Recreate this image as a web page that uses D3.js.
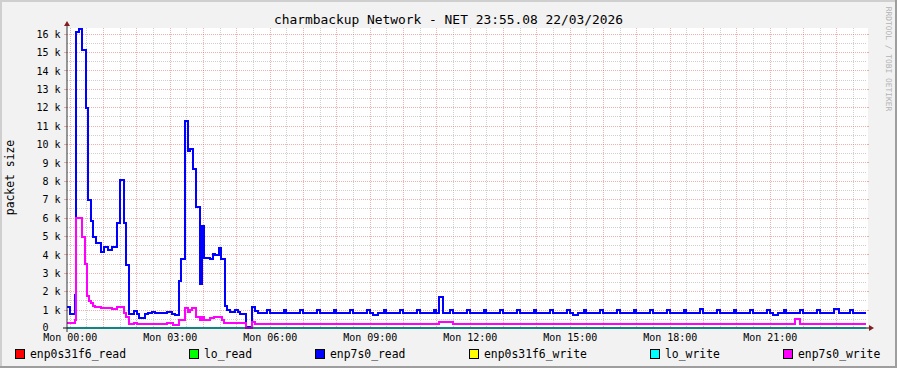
<!DOCTYPE html>
<html>
<head>
<meta charset="utf-8">
<script src="https://cdn.jsdelivr.net/npm/d3@7"></script>
<style>
body { margin: 0; background: #f2f2f2; }
svg { display: block; }
</style>
</head>
<body>
<div id="chart"></div>
<script>
// color definitions (rrdtool look)
var backColor = '#f2f2f2';
var canvasColor = '#ffffff';
var shadeA = '#cfcfcf';
var shadeB = '#9e9e9e';
var gridColor = 'rgba(143,143,143,0.42)';
var mgridColor = 'rgba(222,79,79,0.45)';
var arrowColor = '#801f1f';
var axisColor = '#1f1f1f';
var font = '"DejaVu Sans Mono", "Liberation Mono", monospace';

var width = 897, height = 368;
var xOrigin = 67, yOrigin = 328, xSize = 800, ySize = 300;

// texts
var titleText = 'charmbackup Network - NET 23:55.08 22/03/2026';
var yTitle = 'packet size';
var watermark = 'RRDTOOL / TOBI OETIKER';

// legend
var seriesNames = ['enp0s31f6_read', 'lo_read', 'enp7s0_read', 'enp0s31f6_write', 'lo_write', 'enp7s0_write'];
var seriesColors = ['#ff0000', '#00ff00', '#0000ff', '#ffff00', '#00ffff', '#ff00ff'];
var legendX = [15, 189, 315, 469, 650, 783];

// x axis, minutes from Mon 00:00
var xStart = -5, xEnd = 1435;
var xTicks = [0, 180, 360, 540, 720, 900, 1080, 1260];
var xTickLabels = ['Mon 00:00', 'Mon 03:00', 'Mon 06:00', 'Mon 09:00', 'Mon 12:00', 'Mon 15:00', 'Mon 18:00', 'Mon 21:00'];

// y axis, packets
var yMax = 16304;
var yTicks = [0, 1000, 2000, 3000, 4000, 5000, 6000, 7000, 8000, 9000, 10000, 11000, 12000, 13000, 14000, 15000, 16000];
var yTickLabels = ['0', '1 k', '2 k', '3 k', '4 k', '5 k', '6 k', '7 k', '8 k', '9 k', '10 k', '11 k', '12 k', '13 k', '14 k', '15 k', '16 k'];

// step data: time where value starts (minutes) and value
var zeroTimes = [-5, 1433];
var zeroValues = [0, 0];

var readTimes = [-5, 1, 9, 12, 17, 22, 29, 33, 38, 42, 47, 57, 62, 69, 76, 85, 91, 98, 102, 107,
	116, 121, 125, 136, 141, 148, 153, 175, 184, 190, 196, 200, 207, 213, 217, 222, 228, 234, 238, 241,
	252, 258, 262, 268, 273, 279, 283, 288, 298, 303, 307, 318, 328, 333, 338,
	355, 360, 385, 390, 415, 420, 445, 450, 475, 480, 505, 510, 535, 540, 545, 555,
	565, 570, 595, 600, 625, 630, 655, 660, 665, 671, 685, 690, 715, 720, 745, 750,
	775, 780, 805, 810, 835, 840, 865, 870, 895, 900, 905, 915, 925, 930, 955, 960,
	985, 990, 1015, 1020, 1045, 1050, 1075, 1080, 1105, 1110, 1135, 1140, 1165, 1170,
	1195, 1200, 1225, 1230, 1255, 1260, 1265, 1275, 1285, 1290, 1315, 1320, 1345, 1350,
	1375, 1385, 1405, 1410, 1433];
var readValues = [1160, 760, 1780, 16070, 16270, 15130, 11970, 6970, 5840, 4930, 4600, 4150, 4420, 4240, 4420, 5700, 8050, 5700, 3430, 760,
	940, 740, 530, 760, 800, 870, 800, 870, 780, 680, 2560, 3750, 11270, 9600, 9740, 8650, 6550, 2380, 5570, 3830,
	3750, 4030, 3950, 4370, 3750, 1210, 980, 890, 1000, 890, 780, 70, 1160, 900, 820,
	980, 820, 980, 820, 980, 820, 980, 820, 980, 820, 980, 820, 980, 820, 710, 820,
	980, 820, 980, 820, 980, 820, 980, 820, 1670, 820, 980, 820, 980, 820, 980, 820,
	980, 820, 980, 820, 980, 820, 980, 820, 980, 820, 710, 820, 980, 820, 980, 820,
	980, 820, 980, 820, 980, 820, 980, 820, 980, 820, 1050, 820, 980, 820,
	980, 820, 980, 820, 980, 820, 710, 820, 980, 820, 980, 820, 980, 820,
	1020, 820, 980, 820, 820];

var writeTimes = [-5, 9, 12, 22, 27, 31, 35, 38, 42, 46, 57, 66, 76, 85, 89, 97, 102, 106, 116, 121,
	175, 186, 196, 207, 213, 217, 220, 228, 234, 238, 242, 253, 260, 274, 277, 318, 328, 333,
	665, 690, 1306, 1314, 1433];
var writeValues = [250, 440, 5980, 4970, 3480, 1740, 1470, 1340, 1210, 1160, 1110, 1070, 1020, 1130, 1160, 800, 620, 200, 260, 200,
	250, 170, 440, 1070, 860, 1000, 1110, 620, 440, 620, 440, 560, 620, 440, 250, 20, 340, 230,
	300, 230, 480, 230, 230];

function pairs(times, values) {
	return times.map(function (t, i) { return [t, values[i]]; });
}

var seriesData = [
	pairs(zeroTimes, zeroValues),
	pairs(zeroTimes, zeroValues),
	pairs(readTimes, readValues),
	pairs(zeroTimes, zeroValues),
	pairs(zeroTimes, zeroValues),
	pairs(writeTimes, writeValues)
];

function plotGraph() {
	var svg = d3.select('#chart')
		.append('svg')
		.attr('width', width)
		.attr('height', height)
		.style('font-family', font);

	// background + 3d frame
	svg.append('rect').attr('width', width).attr('height', height).attr('fill', backColor);
	svg.append('path').attr('d', 'M0,0H' + width + 'V2H2V' + height + 'H0Z').attr('fill', shadeA);
	svg.append('path').attr('d', 'M' + width + ',0V' + height + 'H0V' + (height - 2) + 'H' + (width - 2) + 'V0Z').attr('fill', shadeB);

	var x = d3.scaleLinear().domain([xStart, xEnd]).range([xOrigin, xOrigin + xSize]);
	var y = d3.scaleLinear().domain([0, yMax]).range([yOrigin, yOrigin - ySize]);

	// canvas
	svg.append('rect')
		.attr('x', xOrigin).attr('y', yOrigin - ySize)
		.attr('width', xSize + 1).attr('height', ySize)
		.attr('fill', canvasColor);

	var grid = svg.append('g').attr('fill', 'none').attr('stroke-width', 1);

	var minorX = d3.range(30, xEnd, 60);
	var majorX = d3.range(0, xEnd, 60);
	var minorY = d3.range(500, yMax, 1000);
	var majorY = yTicks.filter(function (v) { return v > 0; });

	function px(v) { return Math.round(x(v)) + 0.5; }
	function py(v) { return Math.round(y(v)) + 0.5; }

	// minor grid
	grid.selectAll('.vmin').data(minorX).enter().append('line')
		.attr('x1', px).attr('x2', px)
		.attr('y1', yOrigin - ySize).attr('y2', yOrigin)
		.attr('stroke', gridColor).attr('stroke-dasharray', '1,1');
	grid.selectAll('.hmin').data(minorY).enter().append('line')
		.attr('y1', py).attr('y2', py)
		.attr('x1', xOrigin).attr('x2', xOrigin + xSize)
		.attr('stroke', gridColor).attr('stroke-dasharray', '1,1');
	// major grid
	grid.selectAll('.vmaj').data(majorX).enter().append('line')
		.attr('x1', px).attr('x2', px)
		.attr('y1', yOrigin - ySize).attr('y2', yOrigin)
		.attr('stroke', mgridColor).attr('stroke-dasharray', '1,1');
	grid.selectAll('.hmaj').data(majorY).enter().append('line')
		.attr('y1', py).attr('y2', py)
		.attr('x1', xOrigin).attr('x2', xOrigin + xSize)
		.attr('stroke', mgridColor).attr('stroke-dasharray', '1,1');
	// small solid ticks at the edges
	grid.selectAll('.hmajt').data(majorY).enter().append('path')
		.attr('d', function (v) {
			return 'M' + (xOrigin - 3) + ',' + py(v) + 'H' + xOrigin +
				'M' + (xOrigin + xSize) + ',' + py(v) + 'H' + (xOrigin + xSize + 2);
		})
		.attr('stroke', mgridColor);

	// lines
	var line = d3.line()
		.x(function (d) { return Math.round(x(d[0])); })
		.y(function (d) { return Math.round(y(d[1])); })
		.curve(d3.curveStepAfter);

	svg.append('g').selectAll('path')
		.data(seriesData)
		.enter().append('path')
		.attr('d', line)
		.attr('fill', 'none')
		.attr('stroke', function (d, i) { return seriesColors[i]; })
		.attr('stroke-width', 2)
		.attr('stroke-linejoin', 'miter');

	// axes
	svg.append('line')
		.attr('x1', xOrigin - 4).attr('x2', xOrigin + xSize + 4)
		.attr('y1', yOrigin).attr('y2', yOrigin)
		.attr('stroke', axisColor).attr('stroke-opacity', 0.55).attr('stroke-width', 2);
	svg.append('line')
		.attr('x1', xOrigin).attr('x2', xOrigin)
		.attr('y1', yOrigin + 4).attr('y2', yOrigin - ySize - 4)
		.attr('stroke', axisColor).attr('stroke-opacity', 0.9).attr('stroke-width', 1);
	svg.append('path')
		.attr('d', 'M' + (xOrigin + xSize + 2) + ',' + (yOrigin - 3) + 'L' + (xOrigin + xSize + 2) + ',' + (yOrigin + 3) +
			'L' + (xOrigin + xSize + 7) + ',' + yOrigin + 'Z')
		.attr('fill', arrowColor);
	svg.append('path')
		.attr('d', 'M' + (xOrigin - 3) + ',' + (yOrigin - ySize - 2) + 'L' + (xOrigin + 3) + ',' + (yOrigin - ySize - 2) +
			'L' + xOrigin + ',' + (yOrigin - ySize - 7) + 'Z')
		.attr('fill', arrowColor);

	// x labels via d3 axis
	var xAxis = d3.axisBottom(x)
		.tickValues(xTicks)
		.tickSize(0)
		.tickPadding(0)
		.tickFormat(function (d, i) { return xTickLabels[i]; });
	var gx = svg.append('g').attr('transform', 'translate(0,' + (yOrigin + 13) + ')').call(xAxis);
	gx.select('.domain').remove();
	gx.selectAll('text')
		.attr('dy', null).attr('y', 0)
		.attr('fill', '#000')
		.style('font-family', font).style('font-size', '10px');

	// y labels via d3 axis
	var yAxis = d3.axisLeft(y)
		.tickValues(yTicks)
		.tickSize(0)
		.tickPadding(0)
		.tickFormat(function (d, i) { return yTickLabels[i]; });
	var gy = svg.append('g').attr('transform', 'translate(' + (xOrigin - 6.5) + ',0)').call(yAxis);
	gy.select('.domain').remove();
	gy.selectAll('text')
		.attr('dy', '0.36em')
		.attr('fill', '#000')
		.style('font-family', font).style('font-size', '10px');
	// the zero label sits two character cells further left
	gy.selectAll('.tick').filter(function (d) { return d === 0; }).select('text')
		.attr('x', -12).attr('dy', '0.26em');

	// title
	svg.append('text')
		.attr('x', width / 2).attr('y', 24)
		.attr('text-anchor', 'middle')
		.attr('font-size', '12.9px')
		.attr('fill', '#000')
		.text(titleText);

	// vertical label
	svg.append('text')
		.attr('transform', 'translate(14,177.5) rotate(-90)')
		.attr('text-anchor', 'middle')
		.attr('font-size', '11.4px')
		.attr('fill', '#000')
		.text(yTitle);

	// watermark
	svg.append('text')
		.attr('transform', 'translate(886,59) rotate(90)')
		.attr('text-anchor', 'middle')
		.attr('font-size', '7.9px')
		.attr('fill', '#b3b3b3')
		.text(watermark);

	// legend
	var leg = svg.append('g').selectAll('g')
		.data(seriesNames)
		.enter().append('g')
		.attr('transform', function (d, i) { return 'translate(' + legendX[i] + ',0)'; });
	leg.append('rect')
		.attr('x', 0.5).attr('y', 349.5)
		.attr('width', 9).attr('height', 9)
		.attr('fill', function (d, i) { return seriesColors[i]; })
		.attr('stroke', '#000').attr('stroke-width', 1);
	leg.append('text')
		.attr('x', 15).attr('y', 358)
		.attr('font-size', '11.4px')
		.attr('fill', '#000')
		.text(function (d) { return d; });
}

plotGraph();
</script>
</body>
</html>
